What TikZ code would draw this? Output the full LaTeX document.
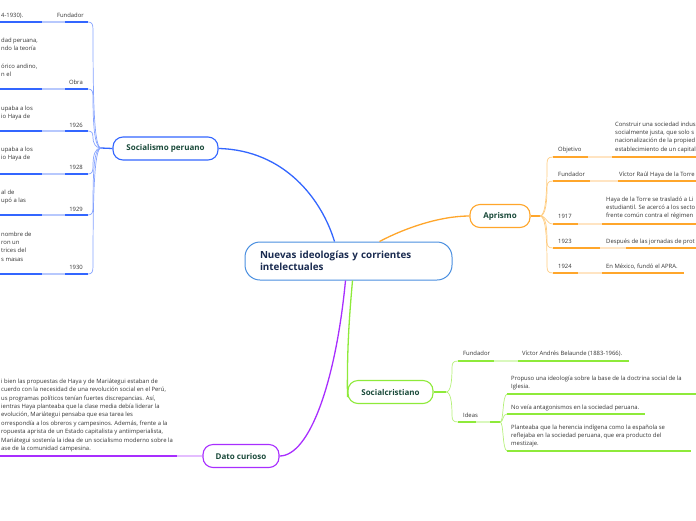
\documentclass[tikz,border=0pt]{standalone}
\usepackage{fontspec}
\setmainfont{Open Sans}
\definecolor{bl}{HTML}{3366FF}
\definecolor{bllt}{HTML}{B7C8FD}
\definecolor{blcurve}{HTML}{86A3FF}
\definecolor{cen}{HTML}{4A8FE0}
\definecolor{orc}{HTML}{FFA62B}
\definecolor{orlt}{HTML}{FFE4C2}
\definecolor{orcurve}{HTML}{FFCC80}
\definecolor{grc}{HTML}{8EEA3A}
\definecolor{grlt}{HTML}{D9F8BD}
\definecolor{grcurve}{HTML}{B5F07A}
\definecolor{puc}{HTML}{A82EFF}
\definecolor{pult}{HTML}{E4BDFF}
\definecolor{nodetxt}{HTML}{1A4A3A}
\definecolor{centxt}{HTML}{1A2B50}
\definecolor{txtgray}{HTML}{353535}
\begin{document}
\begin{tikzpicture}[x=1pt,y=-1pt,
  txt/.style={font=\fontsize{5.9}{8.4}\selectfont, text=txtgray, inner sep=0pt, align=left},
  topic/.style={draw, line width=1.1pt, rounded corners=10pt, fill=white,
    font=\fontsize{8}{10}\selectfont\bfseries, text=nodetxt, inner sep=0pt, minimum height=23pt},
  conn/.style={line width=1.3pt},
  uline/.style={line width=1.7pt},
  sub/.style={line width=0.7pt}]
\useasboundingbox (0,0) rectangle (696,520);
\clip (0,0) rectangle (696,520);

% ---------- main topics
\node[draw=cen, line width=1pt, rounded corners=15pt, fill=white, minimum width=207pt, minimum height=38pt,
  text width=177pt, align=left, inner xsep=15pt, inner ysep=0pt,
  font=\fontsize{9.8}{12.5}\selectfont\bfseries, text=centxt] (cent) at (348.5,261)
  {Nuevas ideologías y corrientes\\intelectuales};
\node[topic, draw=bl, minimum width=105pt] (soc) at (165.5,148.5) {Socialismo peruano};
\node[topic, draw=orc, minimum width=60pt] (apr) at (500,216) {Aprismo};
\node[topic, draw=grc, minimum width=85pt] (scr) at (390.5,392) {Socialcristiano};
\node[topic, draw=puc, minimum width=76pt] (dat) at (241,456) {Dato curioso};

% ---------- main connectors
\draw[conn, bl] ([xshift=-14pt]cent.north) .. controls (322,200) and (285,150) .. (soc.east);
\draw[conn, orc] ([xshift=31pt]cent.north) .. controls (405,228) and (440,216) .. (apr.west);
\draw[conn, grc] ([xshift=4pt]cent.south) .. controls (349,320) and (347,350) .. ([yshift=-5pt]scr.west);
\draw[conn, puc] ([xshift=-3pt]cent.south) .. controls (336,380) and (310,456) .. (dat.east);

% ---------- Socialismo peruano
\coordinate (J1) at (101,148);
\draw[conn, bl] (soc.west) -- (J1);
\foreach \n/\y in {a/22, b/89, c/131, d/174, e/215, f/274}{
  \coordinate (E\n) at (88,\y);
  \draw[uline, bl] (-5,\y) -- (E\n);
  \draw[uline, bllt] (42,\y) -- (65,\y);
}
\draw[sub, blcurve] (J1) .. controls (94,148) and (93,100) .. (93,30) .. controls (93,24) and (92,22) .. (Ea);
\draw[sub, blcurve] (J1) .. controls (94,148) and (93,120) .. (93,97) .. controls (93,91) and (92,89) .. (Eb);
\draw[sub, blcurve] (J1) .. controls (95,148) and (93,142) .. (93,138) .. controls (93,133) and (92,131) .. (Ec);
\draw[sub, blcurve] (J1) .. controls (95,148) and (93,155) .. (93,166) .. controls (93,172) and (92,174) .. (Ed);
\draw[sub, blcurve] (J1) .. controls (94,148) and (93,170) .. (93,207) .. controls (93,213) and (92,215) .. (Ee);
\draw[sub, blcurve] (J1) .. controls (94,148) and (93,200) .. (93,266) .. controls (93,272) and (92,274) .. (Ef);

% (base anchor of a multi-line text = baseline of its last line)
\node[txt, anchor=base east] (la) at (84,17) {Fundador};
\node[txt, anchor=base west] (ta) at (1,17) {4-1930).};
\node[txt, anchor=base east] (lb) at (83,84) {Obra};
\node[txt, anchor=base west] (tb1) at (1,50.4) {dad peruana,\\ndo la teoría};
\node[txt, anchor=base west] (tb2) at (1,76.4) {órico andino,\\n el};
\node[txt, anchor=base east] (lc) at (83,127) {1926};
\node[txt, anchor=base west] (tc) at (1,118.4) {upaba a los\\io Haya de};
\node[txt, anchor=base east] (ld) at (83,169) {1928};
\node[txt, anchor=base west] (td) at (1,159.4) {upaba a los\\io Haya de};
\node[txt, anchor=base east] (le) at (83,211) {1929};
\node[txt, anchor=base west] (te) at (1,202.4) {al de\\upó a las};
\node[txt, anchor=base east] (lf) at (83,269) {1930};
\node[txt, anchor=base west] (tf) at (1,261.2) {nombre de\\ron un\\trices del\\s masas};

% ---------- Aprismo
\coordinate (J2) at (540,216);
\draw[conn, orc] (apr.east) -- (J2);
\foreach \n/\y/\la/\lb/\xe in {a/157/588/612/700, b/181/590/618/700, c/224/578/602/700, d/248/600/626/700, e/273/578/602/684}{
  \coordinate (S\n) at (553,\y);
  \draw[uline, orc] (S\n) -- (\xe,\y);
  \draw[uline, orlt] (\la,\y) -- (\lb,\y);
}
\draw[sub, orcurve] (J2) .. controls (546,216) and (547,190) .. (547,164) .. controls (547,159) and (548,157) .. (Sa);
\draw[sub, orcurve] (J2) .. controls (546,216) and (547,200) .. (547,188) .. controls (547,183) and (548,181) .. (Sb);
\draw[sub, orcurve] (J2) .. controls (547,216) and (546,224) .. (Sc);
\draw[sub, orcurve] (J2) .. controls (546,216) and (547,228) .. (547,241) .. controls (547,246) and (548,248) .. (Sd);
\draw[sub, orcurve] (J2) .. controls (546,216) and (547,240) .. (547,266) .. controls (547,271) and (548,273) .. (Se);

\node[txt, anchor=base west] (aol) at (558,151) {Objetivo};
\node[txt, anchor=base west] (aot) at (615,151.2) {Construir una sociedad indus\\socialmente justa, que solo s\\nacionalización de la propied\\establecimiento de un capital};
\node[txt, anchor=base west] (afl) at (558,176) {Fundador};
\node[txt, anchor=base west] (aft) at (619,176) {Víctor Raúl Haya de la Torre};
\node[txt, anchor=base west] (a1l) at (558,218) {1917};
\node[txt, anchor=base west] (a1t) at (606,217.8) {Haya de la Torre se trasladó a Li\\estudiantil. Se acercó a los secto\\frente común contra el régimen};
\node[txt, anchor=base west] (a2l) at (558,243) {1923};
\node[txt, anchor=base west] (a2t) at (606,243) {Después de las jornadas de prot};
\node[txt, anchor=base west] (a3l) at (558,268) {1924};
\node[txt, anchor=base west] (a3t) at (606,268) {En México, fundó el APRA.};

% ---------- Socialcristiano
\coordinate (J3) at (446,392);
\draw[conn, grc] (scr.east) -- (J3);
\coordinate (Fa) at (458,361);
\coordinate (Fb) at (458,422);
\draw[uline, grc] (Fa) -- (629,361);
\draw[uline, grlt] (494,361) -- (518,361);
\coordinate (J4) at (500,422);
\draw[uline, grc] (Fb) -- (J4);
\draw[uline, grlt] (476,422) -- (490,422);
\draw[sub, grcurve] (J3) .. controls (451,392) and (452,380) .. (452,368) .. controls (452,363) and (453,361) .. (Fa);
\draw[sub, grcurve] (J3) .. controls (451,392) and (452,404) .. (452,415) .. controls (452,420) and (453,422) .. (Fb);
\coordinate (Ga) at (507,394);
\coordinate (Gb) at (507,414);
\coordinate (Gc) at (507,451);
\draw[uline, grc] (Ga) -- (700,394);
\draw[uline, grc] (Gb) -- (645,414);
\draw[uline, grc] (Gc) -- (691,451);
\draw[sub, grcurve] (J4) .. controls (504,422) and (502,396) .. (Ga);
\draw[sub, grcurve] (J4) .. controls (504,422) and (502,414) .. (Gb);
\draw[sub, grcurve] (J4) .. controls (504,422) and (502,449) .. (Gc);

\node[txt, anchor=base west] (sfl) at (463,355) {Fundador};
\node[txt, anchor=base west] (sft) at (522,355) {Víctor Andrés Belaunde (1883-1966).};
\node[txt, anchor=base west] (sil) at (463,417) {Ideas};
\node[txt, anchor=base west] (si1) at (511,388.4) {Propuso una ideología sobre la base de la doctrina social de la\\Iglesia.};
\node[txt, anchor=base west] (si2) at (511,409) {No veía antagonismos en la sociedad peruana.};
\node[txt, anchor=base west] (si3) at (511,445.8) {Planteaba que la herencia indígena como la española se\\reflejaba en la sociedad peruana, que era producto del\\mestizaje.};

% ---------- Dato curioso
\coordinate (Da) at (-5,456);
\draw[uline, puc] (Da) -- (177,456);
\draw[uline, pult] (177,456) -- (dat.west);
\node[txt, anchor=base west] (dt) at (1,450.5) {i bien las propuestas de Haya y de Mariátegui estaban de\\cuerdo con la necesidad de una revolución social en el Perú,\\us programas políticos tenían fuertes discrepancias. Así,\\ientras Haya planteaba que la clase media debía liderar la\\evolución, Mariátegui pensaba que esa tarea les\\orrespondía a los obreros y campesinos. Además, frente a la\\ropuesta aprista de un Estado capitalista y antiimperialista,\\Mariátegui sostenía la idea de un socialismo moderno sobre la\\ase de la comunidad campesina.};
\end{tikzpicture}
\end{document}
